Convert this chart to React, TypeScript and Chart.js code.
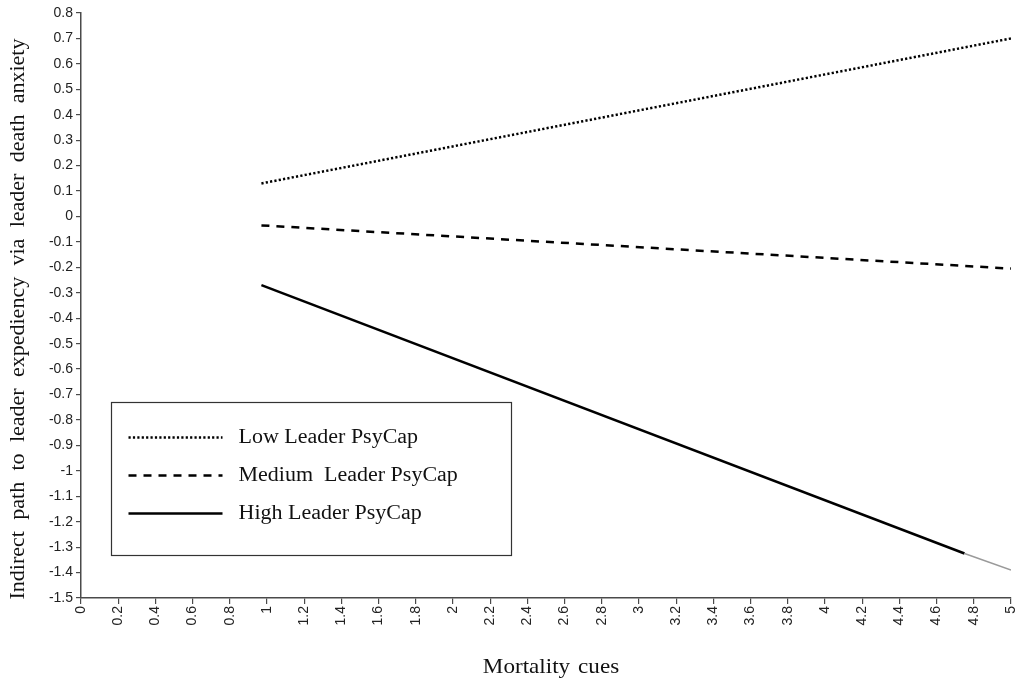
import React, { useEffect, useRef } from "react";
import { Chart, registerables } from "chart.js";

Chart.register(...registerables);

// ---- data ----
const lowPsyCap = [
  { x: 0.97, y: 0.13 },
  { x: 5, y: 0.7 },
];
const mediumPsyCap = [
  { x: 0.97, y: -0.035 },
  { x: 5, y: -0.205 },
];
const highPsyCap = [
  { x: 0.97, y: -0.27 },
  { x: 4.75, y: -1.325 },
  { x: 5, y: -1.39 },
];

const seriesNames = ["Low Leader PsyCap", "Medium  Leader PsyCap", "High Leader PsyCap"];

const xTickValues = [0, 0.2, 0.4, 0.6, 0.8, 1, 1.2, 1.4, 1.6, 1.8, 2, 2.2, 2.4, 2.6, 2.8, 3, 3.2, 3.4, 3.6, 3.8, 4, 4.2, 4.4, 4.6, 4.8, 5];
const xTickLabels = ["0", "0.2", "0.4", "0.6", "0.8", "1", "1.2", "1.4", "1.6", "1.8", "2", "2.2", "2.4", "2.6", "2.8", "3", "3.2", "3.4", "3.6", "3.8", "4", "4.2", "4.4", "4.6", "4.8", "5"];

const yTickValues = [0.8, 0.7, 0.6, 0.5, 0.4, 0.3, 0.2, 0.1, 0, -0.1, -0.2, -0.3, -0.4, -0.5, -0.6, -0.7, -0.8, -0.9, -1, -1.1, -1.2, -1.3, -1.4, -1.5];
const yTickLabels = ["0.8", "0.7", "0.6", "0.5", "0.4", "0.3", "0.2", "0.1", "0", "-0.1", "-0.2", "-0.3", "-0.4", "-0.5", "-0.6", "-0.7", "-0.8", "-0.9", "-1", "-1.1", "-1.2", "-1.3", "-1.4", "-1.5"];

const xTitle = "Mortality cues";
const yTitle = "Indirect path to leader expediency via leader death anxiety";

const AXIS_COLOR = "#4a4a4a";
const SERIF = '"Liberation Serif", "Times New Roman", serif';
const SANS = '"Liberation Sans", Arial, sans-serif';
const TEXT_STRETCH = 1.1;

function labelFor(values: number[], labels: string[], v: number) {
  const i = values.findIndex((t) => Math.abs(t - v) < 1e-6);
  return i >= 0 ? labels[i] : "";
}

function drawStretchedText(
  ctx: CanvasRenderingContext2D,
  text: string,
  x: number,
  y: number,
  opts: { size: number; align: CanvasTextAlign; rotate?: number; wordSpacing?: string }
) {
  ctx.save();
  (ctx as any).wordSpacing = opts.wordSpacing || "0px";
  ctx.translate(x, y);
  if (opts.rotate) ctx.rotate(opts.rotate);
  ctx.scale(TEXT_STRETCH, 1);
  ctx.fillStyle = "#111";
  ctx.font = `${opts.size}px ${SERIF}`;
  ctx.textAlign = opts.align;
  ctx.textBaseline = "middle";
  ctx.fillText(text, 0, 0);
  ctx.restore();
}

const axisTitlesPlugin = {
  id: "axisTitles",
  afterDraw(chart: any) {
    const ctx = chart.ctx as CanvasRenderingContext2D;
    const area = chart.chartArea;
    drawStretchedText(ctx, yTitle, 19, 319, {
      size: 20,
      align: "center",
      rotate: -Math.PI / 2,
      wordSpacing: "5.3px",
    });
    drawStretchedText(ctx, xTitle, (area.left + area.right) / 2 + 5, 667, {
      size: 21,
      align: "center",
      wordSpacing: "2px",
    });
  },
};

const legendBoxPlugin = {
  id: "legendBox",
  afterDatasetsDraw(chart: any) {
    const ctx = chart.ctx as CanvasRenderingContext2D;
    const area = chart.chartArea;
    const boxLeft = area.left + 30.5;
    const boxTop = 402.5;
    const boxW = 400;
    const boxH = 153;
    ctx.save();
    ctx.fillStyle = "#ffffff";
    ctx.fillRect(boxLeft, boxTop, boxW, boxH);
    ctx.strokeStyle = "#333333";
    ctx.lineWidth = 1.2;
    ctx.strokeRect(boxLeft, boxTop, boxW, boxH);
    chart.data.datasets.forEach((ds: any, i: number) => {
      const y = boxTop + 35 + i * 38;
      ctx.beginPath();
      ctx.setLineDash(ds.borderDash || []);
      ctx.lineWidth = ds.borderWidth;
      ctx.strokeStyle = "#000";
      ctx.lineCap = "butt";
      ctx.moveTo(boxLeft + 17, y);
      ctx.lineTo(boxLeft + 111, y);
      ctx.stroke();
      ctx.setLineDash([]);
      drawStretchedText(ctx, ds.label, boxLeft + 127, y, { size: 20, align: "left" });
    });
    ctx.restore();
  },
};

export default function App() {
  const canvasRef = useRef<HTMLCanvasElement | null>(null);

  useEffect(() => {
    if (!canvasRef.current) return;
    const chart = new Chart(canvasRef.current, {
      type: "line",
      data: {
        datasets: [
          {
            label: seriesNames[0],
            data: lowPsyCap,
            borderColor: "#000",
            borderWidth: 2.5,
            borderDash: [2.2, 2.2],
            pointRadius: 0,
            fill: false,
          },
          {
            label: seriesNames[1],
            data: mediumPsyCap,
            borderColor: "#000",
            borderWidth: 2.5,
            borderDash: [8, 7],
            pointRadius: 0,
            fill: false,
          },
          {
            label: seriesNames[2],
            data: highPsyCap,
            borderColor: "#000",
            borderWidth: 2.5,
            pointRadius: 0,
            fill: false,
            segment: {
              borderColor: (c: any) => (c.p0.parsed.x >= 4.7 ? "#9a9a9a" : "#000"),
              borderWidth: (c: any) => (c.p0.parsed.x >= 4.7 ? 1.5 : 2.5),
            },
          },
        ],
      },
      options: {
        animation: false,
        responsive: true,
        maintainAspectRatio: false,
        layout: { padding: { left: 0, top: 13, right: 19, bottom: 0 } },
        plugins: {
          legend: { display: false },
          tooltip: { enabled: false },
        },
        scales: {
          x: {
            type: "linear",
            min: 0,
            max: 5,
            afterFit: (s: any) => {
              s.height = 88;
            },
            afterBuildTicks: (s: any) => {
              s.ticks = xTickValues.map((v) => ({ value: v }));
            },
            ticks: {
              autoSkip: false,
              minRotation: 90,
              maxRotation: 90,
              padding: 2,
              color: "#222",
              font: { family: SANS, size: 14 },
              callback: (v: any) => labelFor(xTickValues, xTickLabels, Number(v)),
            },
            grid: {
              drawOnChartArea: false,
              drawTicks: true,
              tickLength: 6,
              color: AXIS_COLOR,
              lineWidth: 1.2,
            },
            border: { color: AXIS_COLOR, width: 1.5 },
            title: { display: false },
          },
          y: {
            type: "linear",
            min: -1.5,
            max: 0.8,
            afterFit: (s: any) => {
              s.width = 81;
            },
            afterBuildTicks: (s: any) => {
              s.ticks = yTickValues.slice().reverse().map((v) => ({ value: v }));
            },
            ticks: {
              autoSkip: false,
              padding: 3,
              color: "#222",
              font: { family: SANS, size: 14 },
              callback: (v: any) => labelFor(yTickValues, yTickLabels, Number(v)),
            },
            grid: {
              drawOnChartArea: false,
              drawTicks: true,
              tickLength: 5,
              color: AXIS_COLOR,
              lineWidth: 1.2,
            },
            border: { color: AXIS_COLOR, width: 1.5 },
            title: { display: false },
          },
        },
      },
      plugins: [axisTitlesPlugin, legendBoxPlugin],
    });
    return () => chart.destroy();
  }, []);

  return (
    <div
      style={{
        position: "absolute",
        left: 0,
        top: 0,
        width: 1030,
        height: 686,
        background: "#fff",
      }}
    >
      <canvas ref={canvasRef} />
    </div>
  );
}
